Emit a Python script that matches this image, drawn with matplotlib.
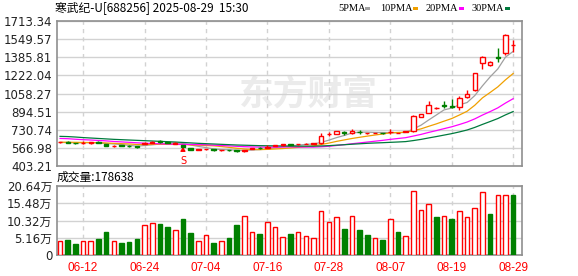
import numpy as np
import matplotlib
matplotlib.use("Agg")
import matplotlib.pyplot as plt
from matplotlib.patches import Rectangle

plt.rcParams['font.family'] = ['DejaVu Sans', 'Noto Sans CJK SC']

# -----------------------------
# Data
# -----------------------------
title = "寒武纪-U[688256] 2025-08-29  15:30"
vol_title = "成交量:178638"

dates = ["06-09", "06-10", "06-11", "06-12", "06-13", "06-16", "06-17", "06-18", "06-19", "06-20",
         "06-23", "06-24", "06-25", "06-26", "06-27", "06-30", "07-01", "07-02", "07-03", "07-04",
         "07-07", "07-08", "07-09", "07-10", "07-11", "07-14", "07-15", "07-16", "07-17", "07-18",
         "07-21", "07-22", "07-23", "07-24", "07-25", "07-28", "07-29", "07-30", "07-31", "08-01",
         "08-04", "08-05", "08-06", "08-07", "08-08", "08-11", "08-12", "08-13", "08-14", "08-15",
         "08-18", "08-19", "08-20", "08-21", "08-22", "08-25", "08-26", "08-27", "08-28", "08-29"]

open_ = [617, 624, 613, 610, 614, 620, 598, 581, 590, 586, 582, 606, 615, 625, 617, 605, 593, 567, 551, 553,
         556, 545, 550, 545, 537, 556, 568, 565, 585, 590, 598, 598, 603, 605, 608, 690, 693, 712, 702, 712,
         698, 701, 702, 711, 700, 712, 716, 848, 882, 925, 952, 945, 936, 1030, 1086, 1330, 1320, 1390, 1420, 1493]
high = [624, 627, 615, 626, 618, 625, 600, 590, 592, 589, 585, 624, 633, 642, 620, 616, 596, 569, 557, 561,
        558, 551, 552, 548, 547, 570, 572, 590, 595, 601, 603, 606, 608, 610, 702, 707, 722, 720, 738, 725,
        703, 705, 704, 738, 705, 720, 860, 876, 990, 935, 987, 1008, 1038, 1086, 1243.2, 1398, 1356, 1468, 1600, 1543]
low = [614, 612, 604, 603, 606, 608, 580, 578, 580, 579, 570, 603, 610, 612, 607, 600, 574, 549, 547, 550,
       542, 542, 541, 530, 533, 553, 560, 562, 582, 587, 590, 595, 600, 602, 605, 677, 690, 684, 696, 690,
       694, 699, 695, 690, 698, 709, 712, 842, 880, 918, 927, 927, 906, 1017, 1080, 1279, 1308, 1345, 1405, 1437]
close = [621, 614, 609, 613, 616, 612, 582, 588, 585, 583, 574, 612, 620, 618, 611, 614, 577, 552, 554, 558,
         545, 548, 545, 536, 545, 567, 564, 572, 590, 598, 595, 603, 606, 608, 671.5, 695, 718, 702, 720, 707,
         700, 703, 698, 714, 702, 716, 858, 870, 950, 928, 945, 940, 1017, 1053, 1243.2, 1384.93, 1345, 1375, 1587.91, 1500]
prev_close0 = 615  # close of the day before the first bar

# volume in 万手
volume = [4.23, 4.62, 3.34, 4.23, 4.23, 4.92, 6.88, 4.23, 3.64, 3.93,
          4.92, 8.85, 9.44, 9.24, 8.36, 7.47, 10.71, 6.59, 4.23, 5.90,
          3.64, 4.23, 5.11, 8.95, 11.80, 6.78, 6.29, 9.73, 8.26, 5.31,
          6.29, 6.78, 5.60, 5.11, 13.07, 9.73, 11.50, 7.77, 11.80, 7.47,
          6.00, 5.01, 4.52, 10.90, 6.88, 5.60, 19.17, 13.57, 15.33, 11.30,
          11.80, 10.70, 13.07, 11.50, 14.16, 18.87, 12.19, 17.90, 17.90, 17.86]

ma5 = [616, 615, 613, 613, 614.6, 612.8, 606.4, 602.2, 596.6, 590.0, 582.4, 588.4, 594.8, 601.4, 607.0,
       613.8, 606.8, 593.2, 580.4, 569.8, 557.2, 551.4, 550.0, 546.4, 543.8, 548.2, 551.4, 556.8, 567.6, 578.2,
       583.8, 591.6, 598.4, 602.0, 616.7, 636.7, 659.7, 678.9, 701.3, 708.4, 709.4, 706.4, 705.6, 704.4, 703.4,
       706.6, 737.6, 772.0, 819.2, 864.4, 910.2, 926.6, 956.0, 976.6, 1039.6, 1127.6, 1208.6, 1280.2, 1387.2, 1438.6]
ma10 = [618, 618, 617, 616, 615, 614, 611, 608, 605, 602.3, 597.6, 597.4, 598.5, 599.0, 598.5,
        598.1, 597.6, 594.0, 590.9, 588.4, 585.5, 579.1, 571.6, 563.4, 556.8, 552.7, 551.4, 553.4, 557.0, 561.0,
        566.0, 571.5, 577.6, 584.8, 597.5, 610.3, 625.7, 638.7, 651.7, 662.6, 673.1, 683.1, 692.3, 702.9, 705.9,
        708.0, 722.0, 738.8, 761.8, 783.9, 808.4, 832.1, 864.0, 897.9, 952.0, 1018.9, 1067.6, 1118.1, 1181.9, 1239.1]
ma20 = [652, 650, 645, 641, 638, 634, 630, 625, 621, 617, 613, 609, 606, 604, 602,
        600, 599, 598, 596, 595.4, 591.6, 588.3, 585.1, 581.2, 577.7, 575.4, 574.5, 573.7, 574.0, 574.7,
        575.8, 575.3, 574.6, 574.1, 577.1, 581.5, 588.5, 596.0, 604.3, 611.8, 619.5, 627.3, 634.9, 643.8, 651.7,
        659.1, 673.8, 688.7, 706.7, 723.2, 740.7, 757.6, 778.1, 800.4, 829.0, 863.5, 894.8, 928.5, 971.9, 1011.5]
ma30 = [671, 669, 665, 660, 656, 652, 648, 644, 641, 638, 635, 632, 629, 626, 623,
        620, 616, 612, 608, 605, 602, 599, 596, 593, 591, 589, 587, 586, 585, 583.9,
        583.0, 582.7, 582.6, 582.4, 584.3, 587.0, 591.6, 595.4, 599.9, 604.0, 608.2, 611.2, 613.8, 617.0, 620.1,
        623.7, 633.0, 643.6, 656.8, 669.2, 682.5, 695.6, 711.3, 728.5, 751.8, 779.1, 805.1, 831.9, 865.1, 895.2]
ma_names = ["5PMA", "10PMA", "20PMA", "30PMA"]

price_ticks = [403.21, 566.98, 730.74, 894.51, 1058.27, 1222.04, 1385.81, 1549.57, 1713.34]
vol_ticks = [0, 5.16, 10.32, 15.48, 20.64]
date_ticks = ["06-12", "06-24", "07-04", "07-16", "07-28", "08-07", "08-19", "08-29"]
event_date = "07-01"
event_label = "S"

# -----------------------------
# Styles / layout
# -----------------------------
W, H = 578, 276
RED = "#ff0000"
GREEN = "#008000"
ma_colors = ["#a0a0a0", "#f0a000", "#ff00ff", "#007a3d"]
GRID = "#d2d2d2"
FRAME = "#8f8f8f"


def fx(px):
    return px / W


def fy(py):
    return 1 - py / H


fig = plt.figure(figsize=(W / 100, H / 100), dpi=100)
ax = fig.add_axes([fx(57), fy(166), fx(522) - fx(57), fy(21) - fy(166)])
axv = fig.add_axes([fx(57), fy(255), fx(522) - fx(57), fy(186) - fy(255)])

x = np.arange(len(dates))
o = np.array(open_)
c = np.array(close)
h = np.array(high)
l = np.array(low)
v = np.array(volume)
tick_idx = [dates.index(d) for d in date_ticks]

# -----------------------------
# Candles
# -----------------------------
up = c >= o
ccol = np.where(up, RED, GREEN)
face = np.where(up, "white", GREEN)
body_lo = np.minimum(o, c)
body_h = np.maximum(np.abs(c - o), 1.5)
ax.vlines(x, l, h, colors=ccol, lw=1, zorder=3)
ax.bar(x, body_h, width=0.58, bottom=body_lo, color=face, edgecolor=ccol, lw=1, zorder=4)

for vals, col in zip([ma5, ma10, ma20, ma30], ma_colors):
    ax.plot(x, vals, color=col, lw=0.9, zorder=2)

# event marker
ei = dates.index(event_date)
ax.annotate(event_label, xy=(ei, l[ei]), xytext=(0, -10), textcoords="offset points",
            ha="center", va="center", color=RED, fontsize=7,
            arrowprops=dict(arrowstyle="-|>,head_width=0.2,head_length=0.3", color=RED, lw=1,
                            shrinkA=3, shrinkB=3))

# watermark
ax.text(fx(308), fy(94), "东方财富", transform=fig.transFigure, fontsize=25, fontweight="bold",
        color="#ebebeb", ha="center", va="center", zorder=0, family="Noto Sans CJK SC")

# -----------------------------
# Volume
# -----------------------------
prev = np.concatenate([[prev_close0], c[:-1]])
vup = c >= prev
axv.bar(x, v, width=0.6, color=np.where(vup, "white", GREEN),
        edgecolor=np.where(vup, RED, GREEN), lw=1, zorder=3)

# -----------------------------
# Axes styling
# -----------------------------
for a in (ax, axv):
    a.set_xlim(-0.4, 60.15)
    a.set_xticks(tick_idx)
    a.set_axisbelow(True)
    a.yaxis.grid(True, color=GRID, lw=1)
    a.xaxis.grid(True, color=GRID, lw=1, ls=(0, (3, 3)))
    a.tick_params(length=0, labelsize=8.5, pad=3.5, colors="#222222")
    for s in a.spines.values():
        s.set_color(FRAME)
        s.set_linewidth(1.2)

ax.set_ylim(price_ticks[0], price_ticks[-1])
ax.set_yticks(price_ticks)
ax.set_yticklabels([f"{t:.2f}" for t in price_ticks])
ax.tick_params(labelbottom=False)

axv.set_ylim(vol_ticks[0], vol_ticks[-1])
axv.set_yticks(vol_ticks)
axv.set_yticklabels(["0"] + [f"{t:.2f}万" for t in vol_ticks[1:]])
axv.set_xticklabels(date_ticks, color=RED, family="Liberation Sans")
axv.tick_params(axis="x", pad=5, colors=RED)

# -----------------------------
# Header texts
# -----------------------------
fig.text(fx(55), fy(8), title, fontsize=8.5, va="center", ha="left", family="Noto Sans CJK SC")
fig.text(fx(57), fy(177), vol_title, fontsize=8.5, va="center", ha="left", family="Noto Sans CJK SC")

leg_text_x = [338, 380, 426, 472]
leg_swatch_x = [365, 413, 459, 505]
for name, col, tx, sx in zip(ma_names, ma_colors, leg_text_x, leg_swatch_x):
    fig.text(fx(tx), fy(8.5), name, fontsize=7.5, va="center", ha="left", family="Liberation Serif")
    fig.add_artist(Rectangle((fx(sx), fy(10)), 5 / W, 3 / H, transform=fig.transFigure,
                             color=col, lw=0))

fig.savefig("out.png", dpi=100)
